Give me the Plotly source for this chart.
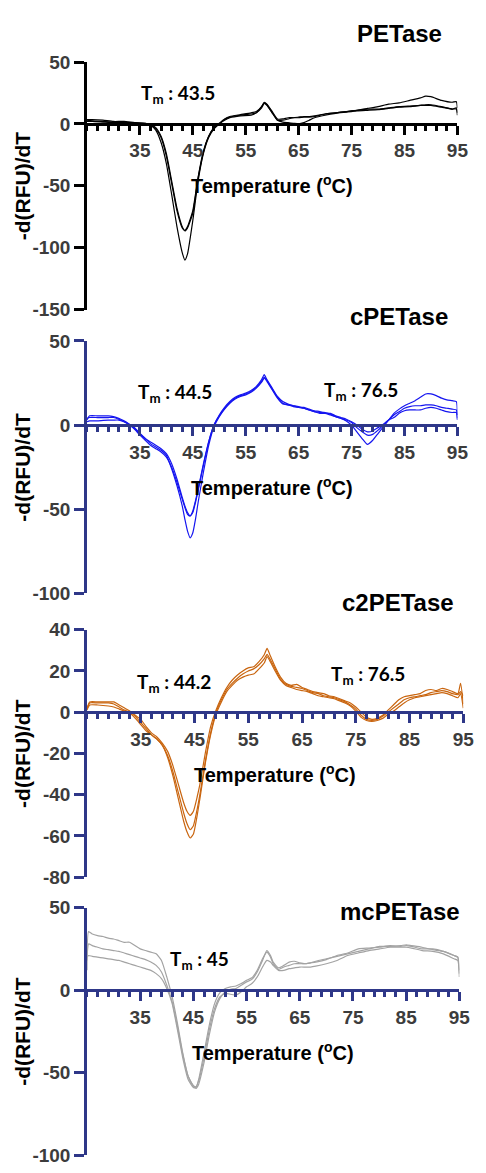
import plotly.graph_objects as go

# ---------------- data: -d(RFU)/dT melt curves, three replicates each ----------------
T_pet = [25, 26, 28, 30, 32, 34, 36, 37, 38, 39, 40, 41, 42, 43, 43.5, 44, 45, 46, 47, 48, 49,
         50, 51, 52, 54, 56, 57, 58, 58.5, 59, 60, 61, 62, 63, 64, 65, 66, 67, 68, 70, 72, 74,
         76, 78, 80, 82, 84, 86, 88, 89, 90, 92, 94, 94.8, 95]
pet_a = [3.5, 3.5, 3, 2, 2, 1, 0.5, -1, -5, -15, -32, -57, -83, -104, -110, -105, -78, -46, -24, -11, -4,
         0, 3, 5, 6.5, 7, 9, 13, 16.5, 15, 9, 3, 3, 4, 5, 5.5, 6, 6, 6.5, 8, 9, 10,
         11, 12.5, 14, 16, 17, 19, 21, 22.5, 22, 19, 17.5, 18, 13]
pet_b = [3, 2.5, 2, 1.5, 1.5, 1, 0.5, -0.5, -3, -10, -24, -46, -68, -83, -86.5, -84, -72, -44, -23, -10, -3,
         0, 3.5, 5.5, 7, 8, 9, 14, 17, 15.5, 9, 3, 1.5, 1, 0.5, 0, 1, 3, 5, 7, 8.5, 9.5,
         10.5, 11, 11.5, 12.5, 13.5, 14, 15, 15.5, 15.5, 14, 12, 12, 7]
pet_c = [2, 2, 1.5, 1, 1, 0.5, 0, -1, -4, -11, -26, -48, -70, -84, -86, -83, -70, -43, -22, -10, -3,
         0.5, 4, 6, 7.5, 9, 10, 14, 17.5, 16, 10, 4, 4, 5, 5, 5, 5.5, 5.5, 6, 8, 9, 10,
         11, 12, 12, 13, 14, 14.5, 15, 15, 15, 13.5, 12, 13, 9]

T_cpet = [25, 25.5, 27, 29, 30, 31, 32, 33, 34, 35, 36, 37, 38, 39, 40, 41, 42, 43, 43.5, 44, 44.5,
          45, 45.5, 46, 47, 48, 49, 50, 51, 52, 53, 54, 55, 56, 57, 58, 58.5, 59, 60, 61, 62,
          63, 64, 65, 66, 67, 68, 69, 70, 71, 72, 73, 74, 75, 76, 77, 78, 79, 80, 81, 82,
          83, 84, 85, 86, 87, 88, 89, 90, 91, 92, 93, 94, 94.8, 95]
cpet_a = [3, 5.5, 5.5, 5.5, 5, 4, 2.5, 0.5, -2, -5, -8, -11, -13, -15, -18, -26, -36, -48, -56, -63, -67,
          -64, -56, -46, -28, -12, -1, 5, 9.5, 13, 15.5, 17, 18, 19.5, 22, 25.5, 28, 26, 21, 16, 12.5,
          12, 11, 10.5, 10, 9, 8, 7, 7, 6, 5, 4, 2.5, 0, -4, -8, -11.5, -9, -5, -1, 3,
          6, 8, 10, 11, 11.5, 11.5, 12, 12, 11.5, 10.5, 10, 9.5, 9, 4]
cpet_b = [4, 4.5, 4.5, 4.5, 4.5, 3.5, 2, 0, -2.5, -6, -9, -12, -14, -16, -19, -25, -34, -44, -49, -53, -54,
          -52, -46, -39, -24, -10, 0, 5.5, 10, 13.5, 16, 17.5, 18.5, 20, 22.5, 26, 28.5, 26.5, 21.5, 16.5, 13,
          12, 11.5, 11, 10, 9, 8, 7.5, 7.5, 6.5, 5, 4, 3, 1.5, -1.5, -4, -6, -5.5, -3, 0, 3,
          7, 9.5, 11.5, 13, 14.5, 16.5, 18.5, 18.5, 17.5, 16, 15, 14.5, 14, 6]
cpet_c = [2, 2.5, 2.5, 3, 3, 3, 2, 0.5, -1.5, -5, -8, -10, -12, -14, -17, -23, -32, -43, -48, -52, -54,
          -51, -45, -38, -23, -10, 0, 6, 10.5, 14, 16.5, 18, 19, 20.5, 23, 27, 30, 27, 22, 17, 14,
          12.5, 11.5, 10.5, 10.5, 9.5, 8.5, 8, 7, 7, 5.5, 4.5, 3.5, 2, 0, -2.5, -4, -3.5, -1.5, 0.5, 3,
          4.5, 7, 8.5, 9, 9, 9, 10, 10.5, 10, 9, 8, 7.5, 7.5, 3]

T_c2pet = [25, 25.5, 27, 29, 30, 31, 32, 33, 34, 35, 36, 37, 38, 39, 40, 41, 42, 43, 43.6, 44.2, 44.8,
           45.5, 46, 47, 48, 49, 50, 51, 52, 53, 54, 55, 56, 57, 58, 58.5, 59, 60, 61, 62, 63,
           64, 65, 66, 67, 68, 69, 70, 71, 72, 73, 74, 75, 76, 77, 78, 79, 80, 81, 82, 83,
           84, 85, 86, 87, 88, 89, 90, 91, 92, 93, 94, 94.5, 95]
c2pet_a = [1.5, 5, 5, 5, 5, 3.5, 2, 0.5, -1.5, -3.5, -7, -10, -12, -15, -19, -26, -35, -44, -48, -50, -48,
           -41, -35, -20, -7, 1, 7, 12, 15.5, 18, 20, 21.5, 22, 24.5, 28, 31, 28, 22, 17, 14, 13,
           13.5, 12, 11, 10, 9.5, 9, 8, 7.5, 6.5, 5.5, 4.5, 2.5, 0, -2.5, -3.5, -3, -1.5, 1, 3.5, 6,
           7.5, 8, 8.5, 9, 10.5, 11, 10.5, 11.5, 11, 10, 9, 14, 4]
c2pet_b = [2, 4.5, 4.5, 4.5, 4, 2.5, 1, 0, -2, -5, -8, -11, -13, -16, -21, -29, -39, -49, -54, -57, -55,
           -47, -40, -24, -10, 0, 6, 11, 14, 16.5, 18.5, 20, 21, 23, 26, 28, 26, 21, 16, 13.5, 12.5,
           12, 11.5, 10.5, 9.5, 9, 8, 7.5, 7, 6, 5, 3.5, 1.5, -1.5, -3.5, -4, -3.5, -2, 0, 2, 4,
           6, 7, 7.5, 8, 8.5, 9.5, 10, 10.5, 10, 9, 8.5, 10, 8]
c2pet_c = [1, 3.5, 3.5, 3, 2.5, 1.5, 0.5, -0.5, -3, -6, -9, -11, -13, -16, -22, -31, -42, -53, -58, -61, -59,
           -50, -42, -25, -11, -1, 5, 10, 13, 15.5, 17, 18, 18.5, 21, 24, 27, 25, 20, 15.5, 13, 12,
           11, 10.5, 10, 9, 8, 7.5, 7, 6.5, 5.5, 4.5, 3, 0.5, -2.5, -4, -4.5, -4, -3, -1, 0.5, 2.5,
           4.5, 6, 7, 7.5, 8, 8.5, 9, 9.5, 9, 8, 7, 9, 2]

T_mcpet = [25, 25.3, 26, 27, 28, 29, 30, 31, 32, 33, 34, 35, 36, 37, 38, 39, 40, 41, 42, 43, 44,
           45, 45.5, 46, 47, 48, 49, 50, 51, 52, 53, 54, 55, 56, 57, 58, 58.8, 59.5, 60, 61, 62,
           63, 64, 65, 66, 67, 68, 70, 72, 74, 76, 78, 80, 82, 84, 85, 86, 88, 90, 92, 94, 94.7, 95]
mcpet_a = [12, 35.5, 34, 33, 32.5, 31.5, 31, 30, 29, 29, 27, 25, 24, 23, 22, 18, 8, -4, -20, -38, -52,
           -58, -59.5, -57, -44, -27, -13, -5, -1, 0.5, 1, 3, 5, 6.5, 11, 18, 24, 21, 17, 13.5, 15,
           17, 17.5, 16.5, 16, 16.5, 17, 18.5, 21, 22.5, 25, 25.5, 26, 27, 26.5, 27, 26.5, 25, 25, 23.5, 21, 20, 8]
mcpet_b = [18, 28, 27, 26, 25, 24.5, 24, 23.5, 22.5, 21.5, 20.5, 19.5, 18.5, 17, 15, 11, 3, -7, -22, -39, -52,
           -58, -58.5, -55, -41, -24, -11, -4, -2, -2.5, -3, -1, 2, 4, 8, 14, 18, 17, 15, 12, 12,
           13, 13.5, 14, 14, 14, 14.5, 16, 18, 21, 22.5, 24, 25, 26, 26, 26, 25.5, 24, 23.5, 22, 19, 18, 10]
mcpet_c = [20, 21, 20.5, 20, 19.5, 19, 18.5, 18, 17, 16, 15, 14, 13, 12, 10, 7, 1, -8, -24, -41, -54,
           -59, -59, -54, -38, -21, -8, -1.5, 1, 2, 2.5, 4, 6, 7.5, 12, 19, 23, 20, 16, 12.5, 14,
           15, 16, 16, 16, 16.5, 17.5, 19, 20.5, 22, 23.5, 25, 26.5, 26.5, 27, 27.5, 27, 26, 24.5, 23.5, 21, 20, 12]

names = ["PETase", "cPETase", "c2PETase", "mcPETase"]
x_tick_vals = [35, 45, 55, 65, 75, 85, 95]
y_ranges = [[-150, 50], [-100, 50], [-80, 40], [-100, 50]]
y_tick_vals = [[-150, -100, -50, 0, 50], [-100, -50, 0, 50], [-80, -60, -40, -20, 0, 20, 40], [-100, -50, 0, 50]]
tm_labels = [[("43.5", 34.8, 24)],
             [("44.5", 34.3, 19), ("76.5", 69.4, 20)],
             [("44.2", 33.9, 14), ("76.5", 70.1, 18)],
             [("45", 40.2, 18.5)]]

temps = [T_pet, T_cpet, T_c2pet, T_mcpet]
curves = [[pet_a, pet_b, pet_c], [cpet_a, cpet_b, cpet_c], [c2pet_a, c2pet_b, c2pet_c], [mcpet_a, mcpet_b, mcpet_c]]

# ---------------- styling / layout geometry ----------------
W, H = 486, 1173
NAVY = "#2e3788"
line_colors = ["#000000", "#1515f0", "#c9650f", "#a3a3a3"]
axis_colors = ["#000000", NAVY, NAVY, NAVY]
# pixel boxes of the four plot areas: (left, right, top, bottom)
boxes = [(89, 468, 53, 305), (89, 468, 337, 594), (89, 474, 631, 883), (89, 470, 914, 1166)]
title_pos = [(454, 24), (460, 312), (467, 603), (473, 918)]

AX_FONT = "Liberation Sans, Arial, sans-serif"
TM_FONT = "Lato, Carlito, Calibri, sans-serif"
TICK_COLOR = "#3c3c3c"

fig = go.Figure()
layout = dict(width=W, height=H, margin=dict(l=0, r=0, t=0, b=0),
              paper_bgcolor="white", plot_bgcolor="white", showlegend=False)
annotations = []

for i in range(4):
    sfx = "" if i == 0 else str(i + 1)
    xa, ya = "x" + sfx, "y" + sfx
    for c in curves[i]:
        assert len(c) == len(temps[i])
        fig.add_trace(go.Scatter(x=temps[i], y=c, mode="lines", xaxis=xa, yaxis=ya,
                                 line=dict(color=line_colors[i], width=1.2, shape="spline", smoothing=0.5),
                                 hoverinfo="skip"))
    l, r, t, b = boxes[i]
    yd = [1 - b / H, 1 - t / H]
    y0, y1 = y_ranges[i]
    zero_pos = yd[0] + (0 - y0) / (y1 - y0) * (yd[1] - yd[0])
    col = axis_colors[i]
    layout["xaxis" + sfx] = dict(
        domain=[l / W, r / W], range=[25, 95], anchor="free", position=zero_pos,
        showline=True, linecolor=col, linewidth=2.5, showgrid=False, zeroline=False,
        tickmode="array", tickvals=x_tick_vals, ticks="outside", ticklen=9, tickwidth=2.5, tickcolor=col,
        minor=dict(tickmode="linear", tick0=25, dtick=2, ticks="outside", ticklen=5, tickwidth=2.5, tickcolor=col),
        tickfont=dict(family=AX_FONT, size=19, color=TICK_COLOR, weight="bold"),
        fixedrange=True)
    layout["yaxis" + sfx] = dict(
        domain=yd, range=y_ranges[i], anchor=xa,
        showline=True, linecolor=col, linewidth=2.5, showgrid=False, zeroline=False,
        tickmode="array", tickvals=y_tick_vals[i], ticktext=[str(v) for v in y_tick_vals[i]],
        ticks="outside", ticklen=10, tickwidth=2.5, tickcolor=col,
        tickfont=dict(family=AX_FONT, size=19, color=TICK_COLOR, weight="bold"),
        fixedrange=True)

    # panel title
    tx, ty = title_pos[i]
    annotations.append(dict(text="<b>%s</b>" % names[i], xref="paper", yref="paper",
                            x=tx / W, y=1 - ty / H, xanchor="right", yanchor="middle", showarrow=False,
                            font=dict(family=AX_FONT, size=24, color="#000000")))
    # y-axis title
    annotations.append(dict(text="<b>-d(RFU)/dT</b>", xref="paper", yref="paper",
                            x=23 / W, y=1 - (t + b) / 2 / H, xanchor="center", yanchor="middle",
                            textangle=-90, showarrow=False,
                            font=dict(family=AX_FONT, size=21, color="#000000")))
    # x-axis title
    annotations.append(dict(text="<b>Temperature (<sup>o</sup>C)</b>", xref=xa, yref=ya,
                            x=60, y=0, yshift=-61, xanchor="center", yanchor="middle", showarrow=False,
                            font=dict(family=AX_FONT, size=20, color="#000000")))
    # melting temperatures
    for val, tx_, ty_ in tm_labels[i]:
        annotations.append(dict(text="<b>T<sub>m</sub> : %s</b>" % val, xref=xa, yref=ya,
                                x=tx_, y=ty_, xanchor="left", yanchor="middle", showarrow=False,
                                font=dict(family=TM_FONT, size=19, color="#000000")))

layout["annotations"] = annotations
fig.update_layout(**layout)
fig.write_html("out.html")
